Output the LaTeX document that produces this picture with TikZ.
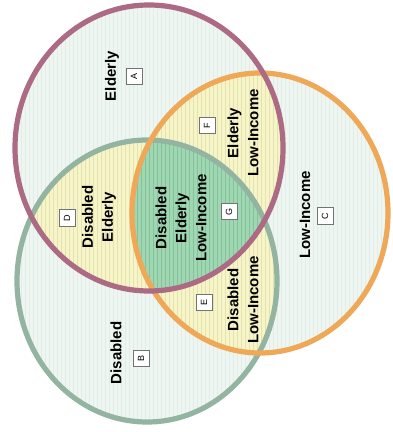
\documentclass[tikz,border=0pt]{standalone}
\usepackage{fontspec}
\setmainfont{Liberation Sans}
\usepackage{tikz}

\definecolor{elderlyc}{RGB}{172,106,132}
\definecolor{incomec}{RGB}{238,168,88}
\definecolor{disabledc}{RGB}{148,180,162}
\definecolor{single}{RGB}{237,246,240}
\definecolor{pair}{RGB}{247,245,198}
\definecolor{triple}{RGB}{158,216,178}

\begin{document}
\begin{tikzpicture}[x=0.5pt,y=-0.5pt]
    \tikzstyle{ring} = [line width=2.6pt]
    \tikzstyle{stripe} = [draw=black, opacity=0.04, line width=0.3pt]
    \tikzstyle{group} = [rotate=90, align=center, inner sep=1pt,
        font=\bfseries\fontsize{7.5}{10}\selectfont]
    \tikzstyle{tag} = [rotate=90, draw=black!55, fill=white, line width=0.5pt,
        minimum size=8pt, inner sep=0pt, font=\fontsize{4.5}{5}\selectfont]

    \def\elderly{(149,148) ellipse [x radius=134, y radius=143]}
    \def\income{(260,213) ellipse [x radius=128, y radius=140]}
    \def\disabled{(147,281) ellipse [x radius=130, y radius=141]}

    \fill[white] (0,0) rectangle (392,432);
    \useasboundingbox (0,0) rectangle (392,432);

    % single regions
    \fill[single] \elderly;
    \fill[single] \income;
    \fill[single] \disabled;

    % overlaps
    \begin{scope}
        \clip \elderly;
        \fill[pair] \income;
        \fill[pair] \disabled;
    \end{scope}
    \begin{scope}
        \clip \income;
        \fill[pair] \disabled;
    \end{scope}
    \begin{scope}
        \clip \elderly;
        \clip \income;
        \fill[triple] \disabled;
    \end{scope}

    % faint vertical stripes
    \foreach \c in {\elderly,\income,\disabled} {
        \begin{scope}
            \clip \c;
            \foreach \x in {1,5,...,389}
                \draw[stripe] (\x,0) -- (\x,432);
        \end{scope}
    }

    % rings
    \draw[ring, disabledc] \disabled;
    \draw[ring, incomec] \income;
    \draw[ring, elderlyc] \elderly;

    % labels
    \node [group] (eld) at (112,76) {Elderly};
    \node [tag] (tagA) at (134,77) {A};

    \node [group] (inc) at (305,215) {Low-Income};
    \node [tag] (tagC) at (325,216) {C};

    \node [group] (dis) at (116,353) {Disabled};
    \node [tag] (tagB) at (141,358) {B};

    \node [group] (diseld) at (99,217) {Disabled\\Elderly};
    \node [tag] (tagD) at (67,218) {D};

    \node [group] (eldinc) at (243,133) {Elderly\\Low-Income};
    \node [tag] (tagF) at (207,126) {F};

    \node [group] (disinc) at (243,300) {Disabled\\Low-Income};
    \node [tag] (tagE) at (204,302) {E};

    \node [group] (all) at (181,218) {Disabled\\Elderly\\Low-Income};
    \node [tag] (tagG) at (229,212) {G};
\end{tikzpicture}
\end{document}
